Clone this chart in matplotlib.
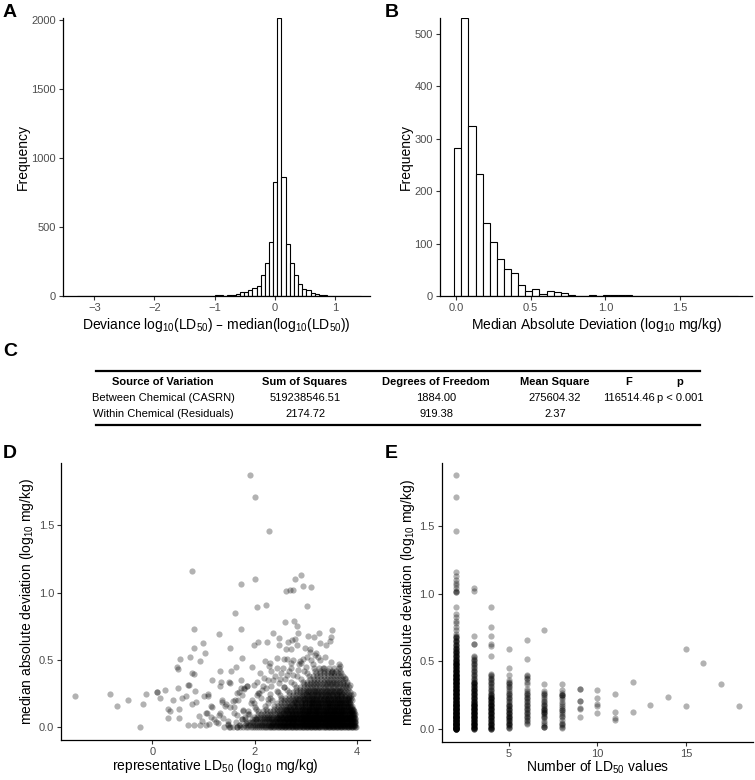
import matplotlib.pyplot as plt
from matplotlib.lines import Line2D

plt.rcParams['font.family'] = ['Liberation Sans', 'DejaVu Sans']
plt.rcParams['mathtext.default'] = 'regular'

# ---- panel A: histogram of deviance from chemical median (bin counts)
a_first_edge = -3.281   # left edge of first bin
a_bin_width = 0.0692
a_counts = [1, 0, 0, 0, 0, 0, 0, 0, 0, 0, 0, 0, 0, 0, 0, 0, 0, 1, 0, 0, 0, 1, 0, 0, 0, 1,
            0, 1, 1, 1, 2, 2, 3, 7, 6, 5, 9, 10, 14, 28, 29, 42, 57, 72, 154, 239, 391, 823,
            2010, 866, 376, 239, 154, 92, 51, 45, 22, 14, 10, 6, 5, 4, 3, 2, 2, 1, 1, 1]

# ---- panel B: histogram of median absolute deviation
b_first_edge = -0.012
b_bin_width = 0.0475
b_counts = [283, 530, 325, 233, 139, 103, 72, 53, 44, 22, 11, 14, 5, 11, 8, 6, 3, 1, 1, 3,
            0, 3, 3, 2, 2, 0, 0, 0, 0, 0, 1, 0, 0, 0, 0, 0, 1, 0, 0, 1]

# ---- panel C: ANOVA table
table_header = ["Source of Variation", "Sum of Squares", "Degrees of Freedom", "Mean Square", "F", "p"]
table_row1 = ["Between Chemical (CASRN)", "519238546.51", "1884.00", "275604.32", "116514.46", "p < 0.001"]
table_row2 = ["Within Chemical (Residuals)", "2174.72", "919.38", "2.37", "", ""]

# ---- panel D: representative LD50 vs MAD
d_sparse = [
    (1.92, 1.87), (2.00, 1.71), (2.28, 1.46), (0.78, 1.16), (2.01, 1.10), (1.73, 1.06), (2.91, 1.13),
    (2.79, 1.10), (2.95, 1.05), (3.10, 1.04), (2.69, 1.02), (2.76, 1.02), (2.62, 1.01), (3.03, 0.90),
    (2.22, 0.91), (2.05, 0.89), (1.62, 0.85), (0.82, 0.73), (1.74, 0.73), (2.60, 0.78), (2.78, 0.79),
    (2.84, 0.75), (2.85, 0.70), (1.30, 0.69), (2.37, 0.70), (3.51, 0.72), (3.05, 0.68), (3.16, 0.67),
    (3.26, 0.70), (2.74, 0.65), (2.66, 0.63), (2.48, 0.66), (2.80, 0.655), (2.62, 0.58), (2.06, 0.63),
    (2.24, 0.63), (1.99, 0.61), (2.47, 0.61), (3.28, 0.625), (3.39, 0.61), (3.47, 0.64), (3.50, 0.67),
    (2.99, 0.59), (2.83, 0.61), (2.71, 0.58), (3.09, 0.585), (1.00, 0.625), (1.52, 0.59), (0.81, 0.59),
    (0.54, 0.51), (0.74, 0.52), (1.03, 0.55), (0.94, 0.49), (1.63, 0.45), (1.76, 0.515), (1.53, 0.415),
    (1.33, 0.42), (0.48, 0.45), (0.50, 0.43), (0.77, 0.40), (0.82, 0.395), (1.94, 0.445), (2.21, 0.495),
    (2.31, 0.48), (2.28, 0.455), (2.58, 0.51), (2.63, 0.51), (2.43, 0.515), (2.43, 0.44), (2.89, 0.49),
    (2.91, 0.475), (3.02, 0.52), (3.21, 0.55), (3.09, 0.556), (3.18, 0.54), (3.24, 0.52), (3.38, 0.525),
    (3.10, 0.50), (3.29, 0.50), (3.15, 0.47), (3.33, 0.44), (3.49, 0.485), (3.65, 0.47), (3.67, 0.455),
    (2.87, 0.47), (3.01, 0.45), (2.94, 0.51), (2.76, 0.50), (2.71, 0.475), (3.77, 0.365), (3.77, 0.316),
    (3.87, 0.315), (3.93, 0.25), (3.51, 0.41), (3.85, 0.224),
    (0.72, 0.315), (0.69, 0.315), (1.34, 0.34), (1.32, 0.31), (1.49, 0.34), (1.16, 0.35), (0.50, 0.295),
    (0.84, 0.27), (0.25, 0.28), (-0.13, 0.25), (0.08, 0.26), (0.08, 0.26), (0.14, 0.22), (-1.51, 0.23),
    (-0.84, 0.25), (-0.70, 0.16), (-0.48, 0.20), (-0.19, 0.17), (-0.25, 0.005), (0.31, 0.14), (0.35, 0.125),
    (0.40, 0.20), (0.30, 0.07), (0.53, 0.14), (0.53, 0.07), (0.58, 0.22), (0.65, 0.23), (0.86, 0.19),
    (0.78, 0.17), (0.82, 0.02), (0.70, 0.02), (0.91, 0.085), (0.94, 0.02), (0.97, 0.045), (1.06, 0.11),
    (1.08, 0.235), (1.15, 0.16), (1.15, 0.08), (1.05, 0.02), (1.10, 0.025), (1.32, 0.105), (1.29, 0.03),
    (1.20, 0.065), (1.36, 0.19), (1.45, 0.17), (1.38, 0.07), (1.47, 0.025), (1.52, 0.005), (1.57, 0.195),
    (1.60, 0.15), (1.67, 0.20), (1.66, 0.255), (1.75, 0.24), (1.73, 0.29), (1.80, 0.29), (1.86, 0.31),
    (1.59, 0.11), (1.75, 0.06), (1.65, 0.005), (2.06, 0.255), (2.09, 0.254),
    (1.51, 0.33), (1.73, 0.35), (1.08, 0.25), (1.01, 0.23), (1.37, 0.20), (1.42, 0.16), (1.17, 0.155),
    (1.05, 0.11), (1.31, 0.09), (1.52, 0.15), (1.62, 0.20), (1.70, 0.26), (1.79, 0.285), (1.85, 0.305),
    (1.98, 0.315), (2.17, 0.31), (2.27, 0.35), (2.36, 0.355), (1.66, 0.09), (1.48, 0.05), (1.25, 0.04),
    (1.69, 0.015), (1.82, 0.065), (1.95, 0.04),
    (2.10, 0.40), (2.18, 0.37), (2.32, 0.42), (2.40, 0.38), (2.52, 0.40), (2.47, 0.33), (2.56, 0.44),
    (2.60, 0.36), (2.68, 0.42), (2.75, 0.39), (2.05, 0.34), (2.22, 0.29), (2.12, 0.22), (2.30, 0.25),
    (1.95, 0.20), (2.00, 0.15), (1.90, 0.10),
    (1.88, 0.12), (1.93, 0.18), (2.04, 0.24), (2.14, 0.28), (2.26, 0.21), (2.33, 0.31), (2.44, 0.27),
    (2.50, 0.36), (2.63, 0.39), (2.71, 0.44), (2.85, 0.425), (2.58, 0.30), (2.02, 0.06), (1.78, 0.13),
    (1.84, 0.03),
]
# dense core, one row of x values (hundredths) per MAD level (hundredths)
d_core_y = [0, 2, 4, 6, 8, 10, 12, 14, 16, 18, 20, 22, 24, 26, 28, 30, 32, 34, 36, 38, 40, 42, 44,
            1, 3, 5, 7, 9, 11, 13, 15, 17, 19, 21, 23, 25, 27]
d_core_x = [
    [141, 150, 158, 166, 172, 178, 183, 188, 193, 197, 201, 205, 209, 213, 216, 220, 223, 227, 230, 233, 236, 239,
     242, 245, 248, 251, 254, 257, 260, 262, 265, 268, 271, 273, 276, 279, 281, 284, 287, 289, 292, 295, 297, 300,
     303, 305, 308, 311, 313, 316, 319, 321, 324, 327, 329, 332, 335, 337, 340, 343, 345, 348, 351, 353, 356, 359,
     361, 364, 367, 369, 372, 375, 377, 380, 383, 385, 388, 391, 393, 396, 398],
    [148, 171, 181, 187, 192, 196, 200, 204, 208, 212, 215, 219, 222, 226, 229, 232, 235, 238, 241, 244,
     247, 250, 253, 255, 258, 261, 264, 266, 269, 272, 274, 277, 280, 282, 285, 288, 290, 293, 296, 298, 301, 304,
     306, 309, 312, 314, 317, 320, 322, 325, 328, 330, 333, 336, 338, 341, 344, 346, 349, 352, 354, 357, 360, 362,
     365, 368, 370, 373, 376, 378, 381, 384, 386, 389, 392, 394, 397],
    [163, 185, 191, 197, 202, 206, 210, 214, 218, 221, 225, 228, 231, 234, 237, 240, 243, 246, 249, 252,
     255, 257, 260, 263, 266, 268, 271, 274, 276, 279, 282, 284, 287, 290, 292, 295, 298, 300, 303, 306, 308, 311,
     314, 316, 319, 322, 324, 327, 330, 332, 335, 338, 340, 343, 346, 348, 351, 354, 356, 359, 362, 364, 367, 370,
     372, 375, 378, 380, 383, 386, 388, 391, 394, 396],
    [175, 194, 200, 205, 210, 214, 218, 222, 226, 229, 232, 235, 238, 241, 244, 247, 250, 253, 256, 259,
     262, 264, 267, 270, 273, 275, 278, 281, 283, 286, 289, 291, 294, 297, 299, 302, 305, 307, 310, 313, 315, 318,
     321, 323, 326, 329, 331, 334, 337, 339, 342, 345, 347, 350, 353, 355, 358, 361, 363, 366, 369, 371, 374, 377,
     379, 382, 385, 387, 390, 393, 396],
    [182, 199, 205, 211, 216, 221, 225, 229, 233, 237, 241, 244, 248, 251, 254, 257, 260, 263, 266, 269,
     272, 275, 278, 281, 284, 287, 290, 292, 295, 298, 301, 303, 306, 309, 312, 314, 317, 320, 323, 325, 328, 331,
     334, 336, 339, 342, 345, 347, 350, 353, 356, 358, 361, 364, 367, 369, 372, 375, 378, 380, 383, 386, 389, 392, 395],
    [188, 206, 213, 219, 225, 230, 235, 240, 244, 248, 252, 256, 260, 263, 267, 270, 273, 276, 279, 282,
     285, 288, 291, 294, 297, 300, 303, 306, 309, 312, 315, 318, 321, 324, 327, 330, 333, 336, 339, 342, 345, 348,
     351, 354, 357, 360, 363, 366, 369, 372, 375, 378, 381, 384, 387, 390, 393, 396],
    [178, 207, 216, 224, 231, 237, 243, 248, 253, 257, 261, 265, 269, 273, 277, 281, 285, 289, 293, 296, 300,
     304, 307, 311, 314, 318, 321, 325, 328, 332, 335, 339, 342, 346, 349, 353, 356, 360, 363, 367, 370, 374, 377,
     381, 384, 388, 391, 394],
    [203, 223, 238, 244, 250, 255, 260, 264, 268, 272, 276, 280, 284, 288, 292, 295, 299, 302, 306,
     309, 313, 316, 320, 323, 327, 330, 334, 337, 341, 344, 348, 351, 355, 358, 362, 365, 369, 372, 376, 379, 383,
     386, 390, 393],
    [220, 238, 245, 251, 256, 261, 266, 270, 275, 279, 283, 287, 291, 295, 299, 302, 306, 310, 313,
     317, 320, 324, 327, 331, 334, 338, 341, 345, 348, 352, 355, 359, 362, 366, 369, 373, 376, 380, 383, 387, 390],
    [198, 227, 244, 251, 257, 263, 268, 273, 278, 282, 286, 290, 294, 298, 302, 306, 310, 313, 317, 321,
     324, 328, 332, 335, 339, 343, 346, 350, 354, 357, 361, 365, 368, 372, 376, 379, 383, 387],
    [234, 251, 258, 264, 270, 275, 280, 285, 289, 294, 298, 302, 306, 310, 314, 318, 322, 326, 330,
     334, 338, 342, 346, 350, 354, 358, 362, 366, 370, 374, 378, 382, 386, 390],
    [230, 252, 260, 267, 273, 279, 284, 289, 294, 299, 303, 308, 312, 317, 321, 326, 330, 335, 339, 344,
     348, 353, 357, 362, 366, 371, 375, 380, 384, 388],
    [250, 268, 275, 281, 287, 292, 297, 302, 307, 311, 316, 321, 325, 330, 334, 339, 343, 348, 352,
     357, 361, 366, 370, 375, 379, 384, 389],
    [245, 268, 276, 283, 289, 295, 300, 305, 310, 315, 320, 325, 330, 335, 340, 345, 350, 355, 360, 365,
     370, 375, 380, 386],
    [264, 282, 289, 295, 301, 307, 312, 317, 322, 327, 332, 337, 342, 347, 352, 357, 362, 367, 372,
     377, 383],
    [258, 281, 289, 296, 302, 308, 313, 318, 323, 328, 333, 338, 343, 348, 353, 358, 363, 368, 373, 379, 385],
    [278, 296, 303, 309, 315, 321, 326, 332, 337, 342, 347, 352, 357, 362, 367, 373, 380],
    [271, 295, 303, 310, 317, 323, 329, 335, 341, 346, 351, 356, 362, 368, 374, 381],
    [291, 309, 316, 323, 330, 336, 342, 348, 353, 359, 365, 371, 378],
    [284, 307, 315, 322, 329, 336, 343, 349, 355, 361, 367, 374],
    [303, 320, 328, 335, 342, 349, 356, 363, 370],
    [297, 319, 328, 336, 344, 352, 360, 368],
    [316, 326, 336, 346, 356, 366],
    [232, 241, 249, 256, 262, 268, 273, 279, 284, 289, 293, 298, 302, 306, 310, 315, 319, 323, 327, 331, 335, 339,
     343, 347, 351, 355, 359, 363, 367, 371, 375, 379, 383, 387, 391, 395],
    [236, 246, 254, 261, 267, 273, 278, 283, 288, 292, 297, 301, 305, 309, 313, 317, 321, 325, 329, 333, 337, 341,
     345, 349, 353, 357, 361, 365, 369, 373, 377, 381, 385, 389, 393, 397],
    [240, 250, 258, 265, 271, 276, 281, 286, 291, 295, 299, 303, 308, 312, 316, 320, 324, 328, 332, 336, 340, 344,
     348, 352, 356, 360, 364, 368, 372, 376, 380, 384, 388, 392, 396],
    [245, 255, 263, 270, 276, 282, 287, 292, 296, 300, 304, 309, 313, 317, 321, 325, 329, 333, 337, 341, 345, 349,
     353, 357, 361, 365, 369, 373, 377, 381, 385, 389, 393, 397],
    [249, 259, 267, 274, 280, 286, 291, 296, 300, 305, 309, 313, 318, 322, 326, 330, 334, 338, 342, 346, 350, 354,
     358, 362, 366, 370, 374, 378, 382, 386, 390, 394],
    [256, 266, 274, 281, 287, 292, 297, 302, 307, 311, 316, 320, 324, 328, 333, 337, 341, 345, 349, 353, 358, 362,
     366, 370, 374, 378, 383, 387, 391, 395],
    [262, 272, 280, 287, 293, 299, 304, 309, 314, 318, 323, 327, 332, 336, 340, 345, 349, 353, 358, 362, 366, 371,
     375, 379, 384, 388, 392],
    [268, 278, 286, 293, 299, 305, 310, 315, 320, 325, 330, 334, 339, 343, 348, 352, 357, 361, 366, 370, 375, 379,
     384, 388],
    [274, 284, 292, 299, 306, 312, 317, 322, 327, 332, 337, 342, 347, 352, 357, 362, 367, 372, 377, 382, 386],
    [280, 290, 298, 306, 313, 319, 325, 331, 337, 343, 349, 355, 361, 367, 373, 379, 384],
    [286, 297, 306, 314, 321, 328, 335, 342, 349, 356, 363, 370, 377, 383],
    [293, 304, 313, 322, 330, 338, 346, 354, 362, 370, 378],
    [300, 312, 322, 332, 342, 352, 362, 372],
    [305, 318, 330, 342, 354, 366],
]

# ---- panel E: number of LD50 values vs MAD (hundredths)
e_n = [2, 3, 4, 5, 6, 7, 8, 9, 10, 11, 12, 13, 14, 15, 16, 17, 18]
# n = 2 is the largest group: MAD levels and how many chemicals sit on each
e2_levels = list(range(0, 71)) + [73, 75, 78, 80, 83, 85, 90, 101, 102, 104, 106, 108, 110, 113, 116, 146, 171, 187]
e2_counts = [8, 6, 6, 6, 6, 6, 6, 6, 6, 6, 6, 5, 5, 5, 5, 5, 5, 5, 5, 5, 5, 4, 4, 4, 4, 4, 4, 4, 4, 4, 4,
             4, 4, 4, 4, 4, 4, 4, 4, 4, 4, 3, 3, 3, 3, 3, 3, 3, 3, 3, 3, 2, 2, 2, 2, 2, 2, 2, 2, 2, 2,
             1, 2, 1, 1, 2, 1, 1, 2, 1, 1, 1, 1, 1, 1, 1, 1, 1, 2, 1, 1, 1, 1, 1, 1, 1, 1, 1, 1]
e_mad_rest = [
    [0, 0, 0, 1, 1, 1, 2, 2, 2, 3, 3, 3, 4, 4, 4, 5, 5, 5, 6, 6, 6, 7, 7, 7, 8, 8, 8, 9, 9, 9, 10, 10, 10, 11, 11,
     11, 12, 12, 12, 13, 13, 13, 14, 14, 14, 15, 15, 15, 16, 16, 16, 17, 17, 17, 18, 18, 18, 19, 19, 19, 20, 20,
     20, 21, 21, 22, 22, 23, 23, 24, 24, 25, 25, 26, 26, 27, 27, 28, 28, 29, 29, 30, 30, 31, 31, 32, 32, 33, 33,
     34, 34, 35, 35, 36, 37, 38, 39, 40, 41, 42, 43, 44, 45, 46, 47, 48, 49, 50, 51, 52, 53, 54, 63, 63, 69, 102, 104],
    [0, 0, 0, 1, 1, 2, 2, 3, 3, 4, 4, 5, 5, 6, 6, 7, 7, 8, 8, 9, 9, 10, 10, 11, 11, 12, 12, 13, 13, 14, 14, 15, 15,
     16, 16, 17, 17, 18, 18, 19, 19, 20, 20, 21, 21, 22, 22, 23, 23, 24, 24, 25, 25, 26, 27, 28, 29, 30, 31, 32,
     33, 34, 35, 36, 37, 38, 39, 40, 41, 54, 61, 63, 69, 75, 90],
    [1, 1, 2, 3, 3, 4, 5, 5, 6, 7, 7, 8, 8, 9, 10, 10, 11, 12, 12, 13, 14, 14, 15, 16, 17, 17, 18, 19, 20, 21, 22,
     23, 24, 25, 26, 27, 28, 30, 31, 32, 33, 34, 35, 36, 40, 45, 59],
    [4, 5, 6, 7, 8, 9, 10, 11, 12, 13, 14, 15, 16, 17, 18, 19, 20, 21, 22, 23, 24, 25, 26, 27, 28, 30, 33, 35, 37,
     38, 39, 40, 52, 66],
    [2, 2, 2, 3, 5, 6, 8, 9, 10, 11, 12, 13, 13, 14, 14, 15, 16, 17, 18, 19, 20, 21, 22, 24, 25, 26, 27, 28, 33, 73],
    [1, 2, 3, 4, 5, 7, 9, 10, 11, 13, 14, 14, 16, 17, 19, 20, 22, 24, 25, 25, 25, 27, 29, 33],
    [9, 15, 16, 21, 21, 30, 30],
    [12, 17, 19, 23, 29],
    [7, 8, 13, 26],
    [13, 35],
    [18],
    [24],
    [17, 59],
    [49],
    [33],
    [17],
]

# ---------------------------------------------------------------------------
W, H = 755, 780
fig = plt.figure(figsize=(W / 100, H / 100), dpi=100)


def add_ax(left, top, right, bottom):
    return fig.add_axes([left / W, 1 - bottom / H, (right - left) / W, (bottom - top) / H])


def style(ax):
    for s in ['top', 'right']:
        ax.spines[s].set_visible(False)
    for s in ['left', 'bottom']:
        ax.spines[s].set_linewidth(0.9)
        ax.spines[s].set_color('black')
    ax.tick_params(length=3, width=0.8, pad=2, color='#333333', labelcolor='#4d4d4d', labelsize=8)


label_kw = dict(fontsize=10, color='black')
ax_a = add_ax(63, 18.3, 370, 296.3)
a_left = [a_first_edge + i * a_bin_width for i in range(len(a_counts))]
ax_a.bar(a_left, a_counts, width=a_bin_width, align='edge', color='white', edgecolor='black', linewidth=0.8)
ax_a.set_xlim(-3.52, 1.58)
ax_a.set_ylim(0, max(a_counts))
ax_a.set_xticks([-3, -2, -1, 0, 1])
ax_a.set_yticks([0, 500, 1000, 1500, 2000])
ax_a.set_ylabel('Frequency', labelpad=1, **label_kw)
ax_a.set_xlabel('Deviance log$_{10}$(LD$_{50}$) \u2013 median(log$_{10}$(LD$_{50}$))', labelpad=2, **label_kw)
style(ax_a)

ax_b = add_ax(440, 18.3, 752, 296.3)
b_left = [b_first_edge + i * b_bin_width for i in range(len(b_counts))]
ax_b.bar(b_left, b_counts, width=b_bin_width, align='edge', color='white', edgecolor='black', linewidth=0.8)
ax_b.set_xlim(-0.107, 1.98)
ax_b.set_ylim(0, max(b_counts))
ax_b.set_xticks([0, 0.5, 1.0, 1.5])
ax_b.set_xticklabels(['0.0', '0.5', '1.0', '1.5'])
ax_b.set_yticks([0, 100, 200, 300, 400, 500])
ax_b.set_ylabel('Frequency', labelpad=1, **label_kw)
ax_b.set_xlabel('Median Absolute Deviation (log$_{10}$ mg/kg)', labelpad=2, **label_kw)
style(ax_b)

# table (pixel coordinates overlay)
ax_c = fig.add_axes([0, 0, 1, 1], zorder=-1)
ax_c.set_xlim(0, W)
ax_c.set_ylim(H, 0)
ax_c.axis('off')
col_x = [163, 305, 436, 555, 629, 680]
tsize = 8.0
ax_c.add_line(Line2D([96, 700], [371, 371], color='black', linewidth=1.6))
ax_c.add_line(Line2D([96, 700], [425, 425], color='black', linewidth=1.6))
for cx, t in zip(col_x, table_header):
    ax_c.text(cx, 385, t, ha='center', va='baseline', fontsize=tsize, fontweight='bold')
for row, ry in [(table_row1, 401), (table_row2, 417)]:
    for cx, t in zip(col_x, row):
        ax_c.text(cx, ry, t, ha='center', va='baseline', fontsize=tsize)

ax_d = add_ax(61, 462.7, 370, 740)
d_x = [p[0] for p in d_sparse]
d_y = [p[1] for p in d_sparse]
for yv, row in zip(d_core_y, d_core_x):
    d_x += [v / 100 for v in row]
    d_y += [yv / 100] * len(row)
ax_d.scatter(d_x, d_y, s=20, color='black', alpha=0.3, linewidths=0)
ax_d.set_xlim(-1.79, 4.26)
ax_d.set_ylim(-0.0935, 1.9635)
ax_d.set_xticks([0, 2, 4])
ax_d.set_yticks([0, 0.5, 1.0, 1.5])
ax_d.set_yticklabels(['0.0', '0.5', '1.0', '1.5'])
ax_d.set_xlabel('representative LD$_{50}$ (log$_{10}$ mg/kg)', labelpad=0, **label_kw)
ax_d.set_ylabel('median absolute deviation (log$_{10}$ mg/kg)', labelpad=2, **label_kw)
style(ax_d)

ax_e = add_ax(441.7, 462.7, 753, 742)
e_x, e_y = [], []
for lv, c in zip(e2_levels, e2_counts):
    e_x += [2] * c
    e_y += [lv / 100] * c
for n, vals in zip(e_n[1:], e_mad_rest):
    e_x += [n] * len(vals)
    e_y += [v / 100 for v in vals]
ax_e.scatter(e_x, e_y, s=20, color='black', alpha=0.3, linewidths=0)
ax_e.set_xlim(1.2, 18.8)
ax_e.set_ylim(-0.0935, 1.9635)
ax_e.set_xticks([5, 10, 15])
ax_e.set_yticks([0, 0.5, 1.0, 1.5])
ax_e.set_yticklabels(['0.0', '0.5', '1.0', '1.5'])
ax_e.set_xlabel('Number of LD$_{50}$ values', labelpad=0, **label_kw)
ax_e.set_ylabel('median absolute deviation (log$_{10}$ mg/kg)', labelpad=2, **label_kw)
style(ax_e)

for lab, x, y in [('A', 3, 4), ('B', 385, 4), ('C', 3, 343), ('D', 3, 445), ('E', 385, 445)]:
    fig.text(x / W, 1 - y / H, lab, fontsize=14, fontweight='bold', ha='left', va='top')

fig.savefig('out.png', dpi=100)
